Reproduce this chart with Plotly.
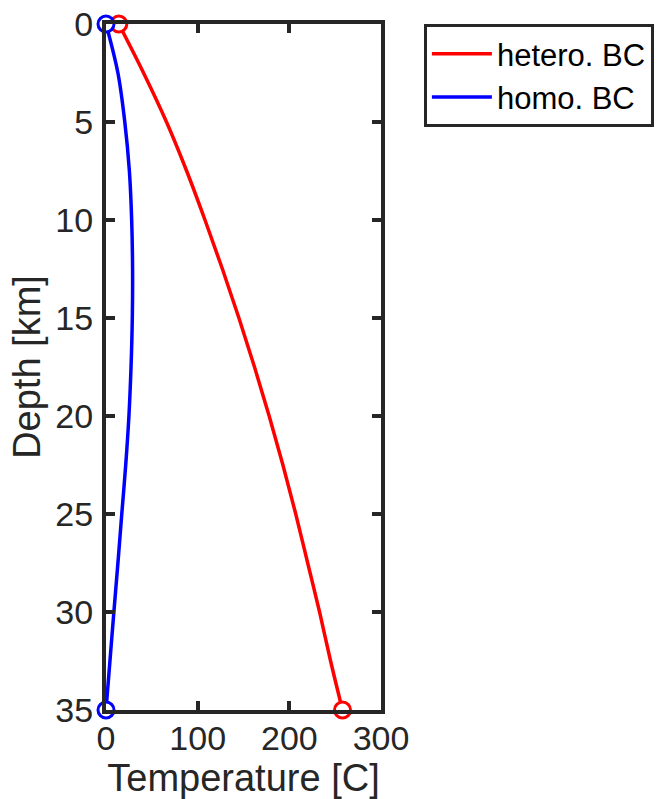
import plotly.graph_objects as go

# Data
depth_km = [0, 2.5, 5, 7.5, 10, 12.5, 15, 17.5, 20, 22.5, 25, 27.5, 30, 32.5, 35]
temp_hetero = [14, 41, 66, 88, 108, 127, 145, 162, 178, 193, 207, 220, 233, 245, 258]
temp_homo = [0, 13, 20.5, 25.5, 28, 29, 28.7, 27.3, 25, 21.5, 17.2, 13, 8.6, 4.3, 0]
series_names = ["hetero. BC", "homo. BC"]
series_colors = ["#ff0000", "#0000ff"]
x_ticks = [0, 100, 200, 300]
y_ticks = [0, 5, 10, 15, 20, 25, 30, 35]

FONT = "Helvetica, 'Liberation Sans', Arial, sans-serif"
AX = "#262626"

fig = go.Figure()
for name, vals, col in zip(series_names, [temp_hetero, temp_homo], series_colors):
    fig.add_trace(go.Scatter(x=vals, y=depth_km, mode="lines", name=name,
                             line=dict(color=col, width=3.5, shape="spline"),
                             cliponaxis=False))
    fig.add_trace(go.Scatter(x=[vals[0], vals[-1]], y=[depth_km[0], depth_km[-1]],
                             mode="markers", showlegend=False,
                             marker=dict(symbol="circle", size=16, color="white",
                                         line=dict(color=col, width=3)),
                             cliponaxis=False))

axis_common = dict(showline=True, linewidth=4, linecolor=AX, mirror="ticks",
                   ticks="inside", ticklen=9, tickwidth=3.5, tickcolor=AX,
                   showgrid=False, zeroline=False, automargin=False,
                   tickfont=dict(family=FONT, size=34, color=AX))

fig.update_layout(
    width=657, height=799,
    margin=dict(l=106, r=276, t=24, b=89, autoexpand=False),
    paper_bgcolor="white", plot_bgcolor="white",
    font=dict(family=FONT, color=AX),
    xaxis=dict(range=[0, 300], tickvals=x_ticks, ticklabelstandoff=-5,
               title=dict(text="Temperature [C]", font=dict(family=FONT, size=38, color=AX), standoff=0),
               **axis_common),
    yaxis=dict(range=[35, 0], tickvals=y_ticks, ticklabelstandoff=2,
               title=dict(text="Depth [km]", font=dict(family=FONT, size=38, color=AX), standoff=4),
               **axis_common),
    legend=dict(x=1.156, y=1, xanchor="left", yanchor="top",
                bordercolor=AX, borderwidth=3, bgcolor="white",
                itemwidth=60, font=dict(family=FONT, size=31, color="black"),
                tracegroupgap=0),
    showlegend=True,
)

fig.write_html("out.html", config={"displayModeBar": False},
               post_script="document.body.style.margin='0px';document.body.style.overflow='hidden';")
